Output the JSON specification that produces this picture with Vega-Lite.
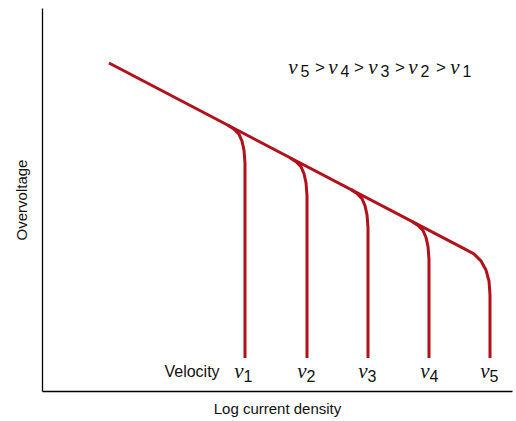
{
  "$schema": "https://vega.github.io/schema/vega-lite/v6.json",
  "width": 470,
  "height": 383,
  "autosize": {"type": "none"},
  "padding": {"left": 42, "top": 8, "right": 4, "bottom": 30},
  "background": "white",
  "config": {"view": {"stroke": null}},
  "datasets": {
    "curves": [
      {"s": "main", "o": 1, "x": 67, "y": 328},
      {"s": "main", "o": 2, "x": 423, "y": 141.8},
      {"s": "main", "o": 3, "x": 432, "y": 137},
      {"s": "main", "o": 4, "x": 439, "y": 130},
      {"s": "main", "o": 5, "x": 444, "y": 121},
      {"s": "main", "o": 6, "x": 447, "y": 110},
      {"s": "main", "o": 7, "x": 448, "y": 96},
      {"s": "main", "o": 8, "x": 448, "y": 33},
      {"s": "v1", "o": 1, "x": 186, "y": 265.8},
      {"s": "v1", "o": 2, "x": 192, "y": 261.8},
      {"s": "v1", "o": 3, "x": 197, "y": 256.8},
      {"s": "v1", "o": 4, "x": 200, "y": 249.8},
      {"s": "v1", "o": 5, "x": 202, "y": 240.8},
      {"s": "v1", "o": 6, "x": 203, "y": 227.8},
      {"s": "v1", "o": 7, "x": 203, "y": 33},
      {"s": "v2", "o": 1, "x": 248, "y": 233.3},
      {"s": "v2", "o": 2, "x": 254, "y": 229.3},
      {"s": "v2", "o": 3, "x": 259, "y": 224.3},
      {"s": "v2", "o": 4, "x": 262, "y": 217.3},
      {"s": "v2", "o": 5, "x": 264, "y": 208.3},
      {"s": "v2", "o": 6, "x": 265, "y": 195.3},
      {"s": "v2", "o": 7, "x": 265, "y": 33},
      {"s": "v3", "o": 1, "x": 309, "y": 201.4},
      {"s": "v3", "o": 2, "x": 315, "y": 197.4},
      {"s": "v3", "o": 3, "x": 320, "y": 192.4},
      {"s": "v3", "o": 4, "x": 323, "y": 185.4},
      {"s": "v3", "o": 5, "x": 325, "y": 176.4},
      {"s": "v3", "o": 6, "x": 326, "y": 163.4},
      {"s": "v3", "o": 7, "x": 326, "y": 33},
      {"s": "v4", "o": 1, "x": 370, "y": 169.5},
      {"s": "v4", "o": 2, "x": 376, "y": 165.5},
      {"s": "v4", "o": 3, "x": 381, "y": 160.5},
      {"s": "v4", "o": 4, "x": 384, "y": 153.5},
      {"s": "v4", "o": 5, "x": 386, "y": 144.5},
      {"s": "v4", "o": 6, "x": 387, "y": 131.5},
      {"s": "v4", "o": 7, "x": 387, "y": 33}
    ],
    "labels": [
      {"k": "word", "t": "Velocity", "x": 150, "y": 19},
      {"k": "v", "t": "v", "x": 197, "y": 19},
      {"k": "sub", "t": "1", "x": 206, "y": 14},
      {"k": "v", "t": "v", "x": 260, "y": 19},
      {"k": "sub", "t": "2", "x": 269, "y": 14},
      {"k": "v", "t": "v", "x": 321, "y": 19},
      {"k": "sub", "t": "3", "x": 330, "y": 14},
      {"k": "v", "t": "v", "x": 383, "y": 19},
      {"k": "sub", "t": "4", "x": 392, "y": 14},
      {"k": "v", "t": "v", "x": 443, "y": 19},
      {"k": "sub", "t": "5", "x": 452, "y": 14},
      {"k": "v", "t": "v", "x": 251, "y": 323},
      {"k": "sub", "t": "5", "x": 263, "y": 319},
      {"k": "op", "t": ">", "x": 278, "y": 323},
      {"k": "v", "t": "v", "x": 291, "y": 323},
      {"k": "sub", "t": "4", "x": 303, "y": 319},
      {"k": "op", "t": ">", "x": 317, "y": 323},
      {"k": "v", "t": "v", "x": 331, "y": 323},
      {"k": "sub", "t": "3", "x": 343, "y": 319},
      {"k": "op", "t": ">", "x": 358, "y": 323},
      {"k": "v", "t": "v", "x": 371, "y": 323},
      {"k": "sub", "t": "2", "x": 383, "y": 319},
      {"k": "op", "t": ">", "x": 399, "y": 323},
      {"k": "v", "t": "v", "x": 413, "y": 323},
      {"k": "sub", "t": "1", "x": 425, "y": 319}
    ]
  },
  "encoding": {
    "x": {
      "field": "x", "type": "quantitative",
      "scale": {"domain": [0, 470], "nice": false, "zero": false},
      "axis": {
        "title": "Log current density", "ticks": false, "labels": false, "grid": false,
        "domainColor": "#000000", "domainWidth": 1.3,
        "titleFont": "Liberation Sans", "titleFontSize": 15, "titleFontWeight": "normal",
        "titleColor": "#111111", "titlePadding": 10
      }
    },
    "y": {
      "field": "y", "type": "quantitative",
      "scale": {"domain": [0, 383], "nice": false, "zero": false},
      "axis": {
        "title": "Overvoltage", "ticks": false, "labels": false, "grid": false,
        "domainColor": "#000000", "domainWidth": 1.3,
        "titleFont": "Liberation Sans", "titleFontSize": 15, "titleFontWeight": "normal",
        "titleColor": "#111111", "titlePadding": 13
      }
    }
  },
  "layer": [
    {
      "data": {"name": "curves"},
      "mark": {"type": "line", "color": "#b0111b", "strokeWidth": 3},
      "encoding": {
        "detail": {"field": "s"},
        "order": {"field": "o", "type": "quantitative"}
      }
    },
    {
      "data": {"name": "labels"},
      "transform": [{"filter": "datum.k === 'word'"}],
      "mark": {"type": "text", "font": "Liberation Sans", "fontSize": 16, "color": "#111111", "align": "center", "baseline": "middle"},
      "encoding": {"text": {"field": "t"}}
    },
    {
      "data": {"name": "labels"},
      "transform": [{"filter": "datum.k === 'v'"}],
      "mark": {"type": "text", "font": "Liberation Serif", "fontStyle": "italic", "fontSize": 21, "color": "#111111", "align": "center", "baseline": "middle"},
      "encoding": {"text": {"field": "t"}}
    },
    {
      "data": {"name": "labels"},
      "transform": [{"filter": "datum.k === 'sub'"}],
      "mark": {"type": "text", "font": "Liberation Sans", "fontSize": 16, "color": "#111111", "align": "center", "baseline": "middle"},
      "encoding": {"text": {"field": "t"}}
    },
    {
      "data": {"name": "labels"},
      "transform": [{"filter": "datum.k === 'op'"}],
      "mark": {"type": "text", "font": "Liberation Sans", "fontSize": 17, "color": "#111111", "align": "center", "baseline": "middle"},
      "encoding": {"text": {"field": "t"}}
    }
  ]
}
